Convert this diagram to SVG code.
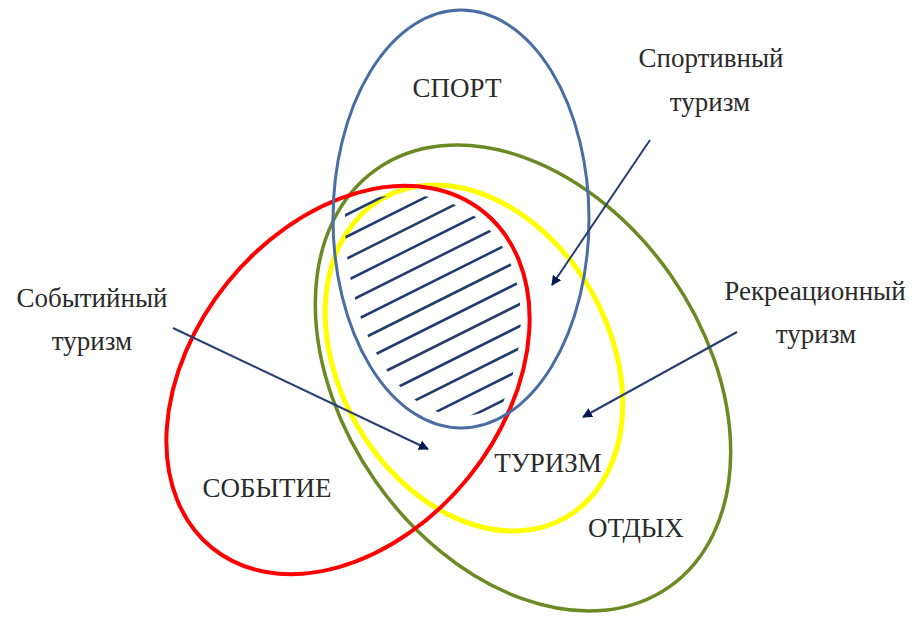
<svg xmlns="http://www.w3.org/2000/svg" width="913" height="618" viewBox="0 0 913 618" font-family="Liberation Serif, Times New Roman, DejaVu Serif, serif">
<style>
text{font-family:"Liberation Serif","Times New Roman","DejaVu Serif",serif}
.lbl{font-size:27px;fill:#2b2b2b;text-anchor:middle}
.ring{fill:none}
.hatch line{stroke:#1f3c6e;stroke-width:2.5}
.conn line{stroke:#253f73;stroke-width:2}
</style>
<defs>
<marker id="ah" viewBox="0 0 10 10" refX="9" refY="5" markerWidth="5" markerHeight="5" orient="auto" markerUnits="strokeWidth">
<path d="M0,0 L10,5 L0,10 z" fill="#001a55"/>
</marker>
<clipPath id="cb"><ellipse cx="461" cy="219" rx="116" ry="197"/></clipPath>
<clipPath id="ch" clip-path="url(#cb)"><ellipse cx="348" cy="380" rx="207" ry="146" transform="rotate(-51 348 380)"/></clipPath>
</defs>
<rect width="913" height="618" fill="#fff"/>
<g id="otdyh"><ellipse class="ring" cx="523" cy="378" rx="255" ry="180" transform="rotate(55 523 378)" stroke="#6b8a23" stroke-width="3.5"/><text class="lbl" x="636" y="537" font-family="Liberation Serif, serif">ОТДЫХ</text></g>
<g id="turizm"><ellipse class="ring" cx="474" cy="358" rx="184" ry="135" transform="rotate(60 474 358)" stroke="#ffff00" stroke-width="5"/><text class="lbl" x="548" y="472">ТУРИЗМ</text></g>
<g id="sobytie"><ellipse class="ring" cx="348" cy="380" rx="216" ry="155" transform="rotate(-51 348 380)" stroke="#ff0000" stroke-width="4"/><text class="lbl" x="267" y="497">СОБЫТИЕ</text></g>
<g id="sport"><ellipse class="ring" cx="461" cy="219" rx="128" ry="209" stroke="#4a6ea3" stroke-width="3"/><text class="lbl" x="457" y="97">СПОРТ</text></g>
<g id="hatched" class="hatch" clip-path="url(#ch)">
<line x1="300" y1="238" x2="580" y2="98"/>
<line x1="300" y1="260" x2="580" y2="120"/>
<line x1="300" y1="282" x2="580" y2="142"/>
<line x1="300" y1="304" x2="580" y2="164"/>
<line x1="300" y1="326" x2="580" y2="186"/>
<line x1="300" y1="348" x2="580" y2="208"/>
<line x1="300" y1="370" x2="580" y2="230"/>
<line x1="300" y1="392" x2="580" y2="252"/>
<line x1="300" y1="414" x2="580" y2="274"/>
<line x1="300" y1="436" x2="580" y2="296"/>
<line x1="300" y1="458" x2="580" y2="318"/>
<line x1="300" y1="480" x2="580" y2="340"/>
<line x1="300" y1="502" x2="580" y2="362"/>
</g>
<g id="label-sport-tourism"><text class="lbl" x="711" y="67">Спортивный</text><text class="lbl" x="710" y="111">туризм</text></g>
<g id="label-recreation-tourism"><text class="lbl" x="815" y="300">Рекреационный</text><text class="lbl" x="816" y="343">туризм</text></g>
<g id="label-event-tourism"><text class="lbl" x="92" y="307">Событийный</text><text class="lbl" x="92" y="350">туризм</text></g>
<g id="connectors" class="conn">
<line x1="650" y1="140" x2="552" y2="285" marker-end="url(#ah)"/>
<line x1="737" y1="332" x2="583" y2="417" marker-end="url(#ah)"/>
<line x1="173" y1="328" x2="428" y2="449" marker-end="url(#ah)"/>
</g>
</svg>
